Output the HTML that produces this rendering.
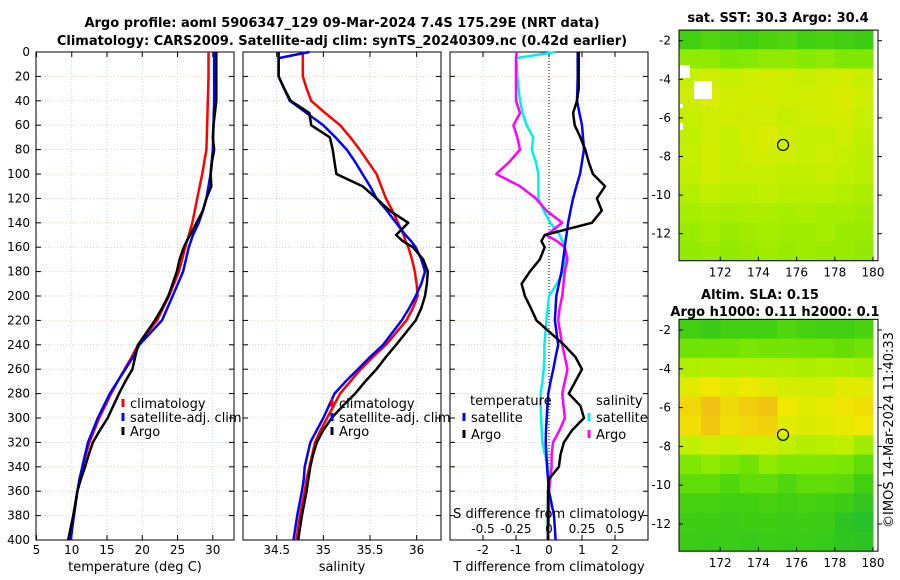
<!DOCTYPE html>
<html><head><meta charset="utf-8"><style>
html,body{margin:0;padding:0;background:#fff}
svg{display:block;font-family:"DejaVu Sans","Liberation Sans",sans-serif}
</style></head><body>
<svg id="chart" width="900" height="580" viewBox="0 0 900 580">
<text x="342" y="27" text-anchor="middle" font-size="13" font-weight="bold">Argo profile: aoml 5906347_129 09-Mar-2024 7.4S 175.29E (NRT data)</text>
<text x="342" y="45" text-anchor="middle" font-size="13" font-weight="bold">Climatology: CARS2009. Satellite-adj clim: synTS_20240309.nc (0.42d earlier)</text>
<g id="g"></g>
<text transform="translate(893,430) rotate(-90)" text-anchor="middle" font-size="13">©IMOS 14-Mar-2024 11:40:33</text>
</svg>
<script>
const depths=[0,5,20,30,40,50,60,70,80,90,100,110,120,130,140,150,155,160,170,180,190,200,210,220,240,250,260,270,280,290,300,310,320,330,340,350,360,380,400];
const tempClim=[29.4,29.4,29.4,29.35,29.3,29.25,29.2,29.15,29.1,28.8,28.5,28.15,27.8,27.45,27.1,26.6,26.35,26.1,25.65,25.2,24.5,23.8,22.95,22.1,19.4,18.5,17.5,16.5,15.6,14.75,13.9,13.2,12.5,12.0,11.55,11.2,10.8,10.3,9.7];
const tempSat=[30.2,30.2,30.2,30.2,30.2,30.15,30.1,30.05,30.0,29.85,29.7,29.4,29.1,28.6,28.0,27.2,26.9,26.6,26.2,25.8,25.05,24.3,23.55,22.8,19.6,18.7,17.6,16.5,15.4,14.55,13.7,13.0,12.3,11.9,11.5,11.1,10.8,10.3,9.85];
const tempArgo=[30.5,30.5,30.5,30.5,30.5,30.3,30.1,30.0,30.2,29.9,29.7,29.8,29.1,28.6,27.7,26.8,26.3,25.9,25.3,24.9,24.3,23.7,22.8,21.8,19.4,19.0,18.6,17.6,16.7,15.9,15.1,14.0,13.0,12.4,11.9,11.3,10.8,10.2,9.5];
const salClim=[34.78,34.78,34.78,34.82,34.87,35.02,35.18,35.29,35.39,35.48,35.57,35.62,35.67,35.74,35.80,35.86,35.88,35.91,35.95,35.98,36.0,36.01,35.96,35.89,35.67,35.53,35.4,35.29,35.18,35.11,35.04,34.97,34.91,34.88,34.85,34.82,34.8,34.75,34.71];
const salSat=[34.85,34.52,34.52,34.58,34.64,34.82,35.0,35.13,35.25,35.34,35.42,35.5,35.57,35.68,35.78,35.88,35.94,35.99,36.05,36.09,36.05,35.99,35.92,35.84,35.64,35.5,35.37,35.24,35.12,35.06,35.0,34.93,34.86,34.83,34.8,34.79,34.77,34.72,34.68];
const salArgo=[34.52,34.52,34.52,34.58,34.65,34.85,34.87,35.07,35.10,35.12,35.14,35.42,35.57,35.71,35.91,35.78,35.85,35.96,36.07,36.12,36.11,36.09,36.05,35.99,35.78,35.67,35.57,35.45,35.34,35.21,35.09,35.0,34.93,34.89,34.86,34.84,34.82,34.77,34.73];
const tdSat=[0.87,0.87,0.87,0.86,0.85,0.92,1.0,1.03,1.06,1.0,0.94,0.83,0.73,0.65,0.58,0.53,0.5,0.48,0.43,0.38,0.3,0.22,0.2,0.18,0.28,0.2,0.13,0.05,-0.02,-0.05,-0.07,-0.09,-0.1,-0.08,-0.06,-0.03,0.0,0.15,0.2];
const tdArgo=[0.9,0.9,0.9,0.9,0.85,0.73,0.78,0.95,1.1,1.2,1.33,1.7,1.45,1.6,1.3,-0.13,-0.23,-0.13,-0.28,-0.58,-0.83,-0.73,-0.55,-0.38,0.45,0.8,1.0,0.8,0.6,0.95,1.06,0.7,0.45,0.35,0.3,0.0,-0.03,-0.03,-0.03];
const sdSat=[0.05,-0.25,-0.24,-0.23,-0.22,-0.2,-0.17,-0.12,-0.13,-0.1,-0.08,-0.08,-0.08,-0.04,0.01,0.08,0.1,0.12,0.12,0.11,0.06,0.0,-0.01,-0.02,-0.035,-0.035,-0.04,-0.05,-0.063,-0.063,-0.06,-0.055,-0.05,-0.03,-0.005,-0.005,-0.005,-0.01,-0.01];
const sdArgo=[-0.245,-0.25,-0.25,-0.25,-0.25,-0.22,-0.27,-0.24,-0.22,-0.3,-0.4,-0.22,-0.1,-0.02,0.1,-0.02,0.06,0.12,0.14,0.12,0.11,0.1,0.08,0.07,0.1,0.12,0.14,0.12,0.1,0.11,0.12,0.08,0.03,0.02,0.02,0.01,0.0,0.0,-0.01];
const depthTicks=[0,20,40,60,80,100,120,140,160,180,200,220,240,260,280,300,320,340,360,380,400];
const tempTicks=[5,10,15,20,25,30];
const salTicks=[34.5,35,35.5,36];
const tdTicks=[-2,-1,0,1,2];
const sdTicks=[-0.5,-0.25,0,0.25,0.5];
const sstGrid=[
[0.30,0.35,0.32,0.30,0.33,0.35,0.30,0.32,0.30,0.28],
[0.55,0.55,0.50,0.52,0.55,0.55,0.52,0.55,0.50,0.50],
[0.72,0.74,0.72,0.74,0.75,0.74,0.72,0.74,0.75,0.72],
[0.74,0.78,0.74,0.75,0.76,0.74,0.75,0.76,0.78,0.74],
[0.72,0.74,0.76,0.75,0.74,0.72,0.74,0.76,0.76,0.72],
[0.70,0.74,0.72,0.76,0.78,0.74,0.72,0.72,0.74,0.70],
[0.72,0.76,0.72,0.74,0.76,0.74,0.72,0.74,0.72,0.68],
[0.70,0.76,0.72,0.72,0.72,0.70,0.70,0.72,0.70,0.68],
[0.66,0.70,0.68,0.68,0.70,0.68,0.68,0.68,0.66,0.64],
[0.62,0.64,0.62,0.64,0.64,0.62,0.64,0.62,0.62,0.60],
[0.58,0.62,0.58,0.60,0.62,0.60,0.60,0.62,0.58,0.58],
[0.56,0.58,0.56,0.58,0.60,0.58,0.60,0.58,0.58,0.56]];
const slaGrid=[
[0.30,0.25,0.30,0.30,0.30,0.35,0.32,0.30,0.30,0.33],
[0.45,0.45,0.45,0.48,0.47,0.47,0.45,0.45,0.42,0.45],
[0.65,0.66,0.65,0.66,0.66,0.66,0.64,0.65,0.64,0.62],
[0.80,0.85,0.80,0.84,0.80,0.76,0.75,0.75,0.80,0.80],
[0.90,0.97,0.90,0.93,0.96,0.85,0.80,0.82,0.86,0.88],
[0.88,0.95,0.88,0.90,0.92,0.80,0.78,0.80,0.82,0.85],
[0.70,0.75,0.72,0.75,0.75,0.70,0.66,0.68,0.70,0.60],
[0.50,0.55,0.50,0.45,0.55,0.50,0.50,0.50,0.48,0.40],
[0.40,0.40,0.35,0.40,0.40,0.35,0.40,0.40,0.38,0.30],
[0.32,0.32,0.30,0.30,0.32,0.30,0.32,0.30,0.28,0.22],
[0.28,0.28,0.26,0.28,0.28,0.26,0.28,0.26,0.18,0.15],
[0.26,0.25,0.26,0.24,0.26,0.25,0.26,0.24,0.20,0.18]];
const mapLonTicks=[172,174,176,178,180];
const mapLatTicks=[-2,-4,-6,-8,-10,-12];
const floatLon=175.29, floatLat=-7.4;

const NS='http://www.w3.org/2000/svg';
const G=document.getElementById('g');
function mk(tag,attrs,parent){const e=document.createElementNS(NS,tag);for(const k in attrs)e.setAttribute(k,attrs[k]);(parent||G).appendChild(e);return e;}
function txt(x,y,s,anchor,size,parent){const t=mk('text',{x:x,y:y,'text-anchor':anchor||'middle','font-size':size||12},parent);t.textContent=s;return t;}
const Y0=52,Y1=540;
const yD=d=>Y0+(d/400)*(Y1-Y0);

function panel(name,x0,x1,xScale,xticks,fmt,title){
  const g=mk('g',{});
  
  
  depthTicks.forEach(d=>{const l=mk('line',{x1:x0,x2:x1,y1:yD(d),y2:yD(d),stroke:(d/20)%2?'#e8c8a0':'#b8c8e8','stroke-width':0.8,'stroke-dasharray':'1,2'},g);});
  xticks.forEach(v=>{const x=xScale(v);if(x>x0&&x<x1){const l=mk('line',{x1:x,x2:x,y1:Y0,y2:Y1,stroke:'#b8c8e8','stroke-width':0.8,'stroke-dasharray':'1,2'},g);}
    const tk=mk('line',{x1:x,x2:x,y1:Y1,y2:Y1-5,stroke:'#000'},g);
    const tk2=mk('line',{x1:x,x2:x,y1:Y0,y2:Y0+5,stroke:'#000'},g);
    const t=txt(x,Y1+14,fmt(v),'middle',12,g);});
  depthTicks.forEach(d=>{const tk=mk('line',{x1:x0,x2:x0+5,y1:yD(d),y2:yD(d),stroke:'#000'},g);
    const tk2=mk('line',{x1:x1,x2:x1-5,y1:yD(d),y2:yD(d),stroke:'#000'},g);});
  const r=mk('rect',{x:x0,y:Y0,width:x1-x0,height:Y1-Y0,fill:'none',stroke:'#000'},g);
  const t=txt((x0+x1)/2,Y1+31,title,'middle',13,g);
  return g;
}
function line(g,vals,xScale,color,name,w){
  const pts=vals.map((v,i)=>xScale(v).toFixed(1)+','+yD(depths[i]).toFixed(1)).join(' ');
  const p=mk('polyline',{points:pts,fill:'none',stroke:color,'stroke-width':w||2.5,'stroke-linejoin':'round'},g);
  
  
}
function legend(g,x,y,color,label){
  const m=mk('line',{x1:x,x2:x,y1:y-9,y2:y-1,stroke:color,'stroke-width':3},g);
  
  
  const t=txt(x+7,y,label,'start',13,g);
  
  
}
depthTicks.forEach(d=>{const t=txt(30,yD(d)+4,String(d),'end',12);});

// panel 1
const xT=v=>36.5+(v-5)*7.05;
const p1=panel('temperature-panel',36,234,xT,tempTicks,String,'temperature (deg C)');
line(p1,tempClim,xT,'#f00','climatology-temp-line');
line(p1,tempSat,xT,'#00f','satellite-temp-line');
line(p1,tempArgo,xT,'#000','argo-temp-line');
legend(p1,123,408,'#f00','climatology');legend(p1,123,422,'#00f','satellite-adj. clim');legend(p1,123,436,'#000','Argo');

// panel 2
const xS=v=>276.7+(v-34.5)*93.3;
const p2=panel('salinity-panel',243,441,xS,salTicks,String,'salinity');
line(p2,salClim,xS,'#f00','climatology-sal-line');
line(p2,salSat,xS,'#00f','satellite-sal-line');
line(p2,salArgo,xS,'#000','argo-sal-line');
legend(p2,332,408,'#f00','climatology');legend(p2,332,422,'#00f','satellite-adj. clim');legend(p2,332,436,'#000','Argo');

// panel 3
const xTD=v=>549+v*33;
const xSD=v=>549+v*132;
const p3=panel('difference-panel',450,648,xTD,tdTicks,String,'T difference from climatology');
const z=mk('line',{x1:549,x2:549,y1:Y0,y2:Y1,stroke:'#000','stroke-dasharray':'1,2'},p3);
line(p3,sdSat,xSD,'#0ee','satellite-sal-diff-line');
line(p3,sdArgo,xSD,'#f0f','argo-sal-diff-line');
line(p3,tdSat,xTD,'#00f','satellite-temp-diff-line');
line(p3,tdArgo,xTD,'#000','argo-temp-diff-line');
sdTicks.forEach(v=>{const t=txt(xSD(v),533,String(v),'middle',12,p3);});
{const t=txt(549,518,'S difference from climatology','middle',13,p3);}
{const t=txt(470,405,'temperature','start',13,p3);}
{const t=txt(596,405,'salinity','start',13,p3);}
legend(p3,464,422,'#00f','satellite');legend(p3,464,439,'#000','Argo');
legend(p3,589,422,'#0ee','satellite');legend(p3,589,439,'#f0f','Argo');

// maps
const stops=[[0,[16,176,64]],[0.3,[64,208,16]],[0.5,[128,232,0]],[0.7,[192,240,0]],[0.85,[240,232,0]],[1,[240,184,24]]];
function cmap(v){for(let i=1;i<stops.length;i++){if(v<=stops[i][0]){const a=stops[i-1],b=stops[i],t=(v-a[0])/(b[0]-a[0]);return 'rgb('+a[1].map((c,k)=>Math.round(c+(b[1][k]-c)*t)).join(',')+')';}}return 'rgb(240,184,24)';}
function map(name,lat2y,grid,titles){
  const g=mk('g',{});
  
  
  const lonX=l=>682+(l-170)*19.1;
  const latTop=-1.45,latBot=-13.4;
  const rows=grid.length;
  grid.forEach((row,r)=>row.forEach((v,c)=>{
    const la0=latTop+(latBot-latTop)*r/rows,la1=latTop+(latBot-latTop)*(r+1)/rows;
    const x0=lonX(170+c),x1=lonX(171+c);
    const e=mk('rect',{x:(c==0?679:x0).toFixed(1),y:lat2y(la0).toFixed(1),width:((c==0?x1-679:x1-x0)+0.5).toFixed(1),height:(lat2y(la1)-lat2y(la0)+0.5).toFixed(1),fill:cmap(v)},g);
    
    
  }));
  const bot=lat2y(latBot);
  const fr=mk('rect',{x:679,y:lat2y(latTop),width:199,height:bot-lat2y(latTop),fill:'none',stroke:'#000'},g);
  
  mapLonTicks.forEach(l=>{const x=lonX(l);mk('line',{x1:x,x2:x,y1:bot,y2:bot-4,stroke:'#000'},g);
    const t=txt(x,bot+16,String(l),'middle',12,g);});
  mapLatTicks.forEach(la=>{const y=lat2y(la);mk('line',{x1:679,x2:683,y1:y,y2:y,stroke:'#000'},g);
    mk('line',{x1:878,x2:882,y1:y,y2:y,stroke:'#000'},g);
    const t=txt(671,y+4,String(la),'end',12,g);});
  const c=mk('circle',{cx:lonX(floatLon),cy:lat2y(floatLat),r:5.5,fill:'none',stroke:'#000','stroke-width':1.2},g);
  
  titles.forEach(([s,x,y])=>{const t=txt(x,y,s,'middle',13,g);t.setAttribute('font-weight','bold');});
  return g;
}
const m1=map('sst-map',la=>40.7+(-2-la)*19.3,sstGrid,[['sat. SST: 30.3 Argo: 30.4',778,22]]);
[[680,65,10,13],[694,81,18,18],[680,104,3,4],[680,123,3,7]].forEach(a=>{const w=mk('rect',{x:a[0],y:a[1],width:a[2],height:a[3],fill:'#fff'},m1);});
map('sla-map',la=>330+(-2-la)*19.4,slaGrid,[['Altim. SLA: 0.15',760,299],['Argo h1000: 0.11 h2000: 0.1',775,316]]);
</script>
</body></html>
